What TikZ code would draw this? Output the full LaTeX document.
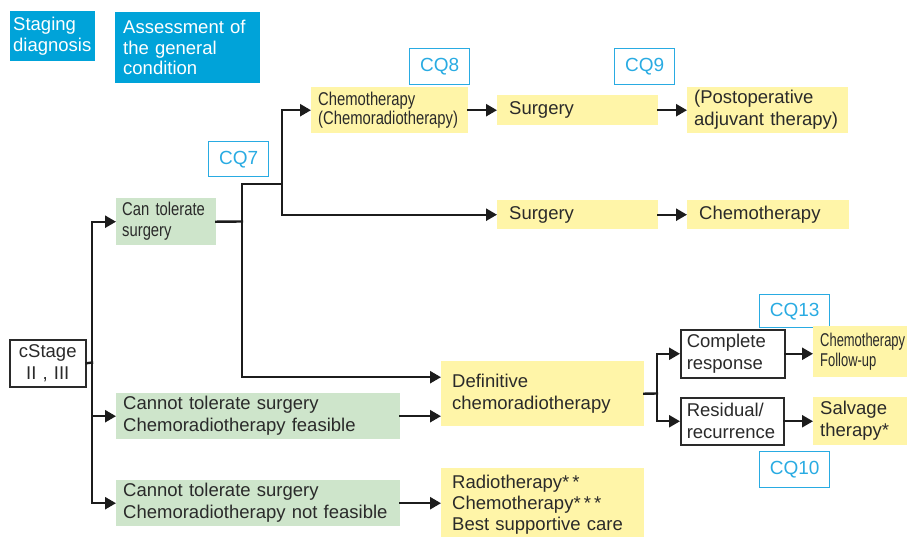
\documentclass[tikz,border=0pt]{standalone}
\usepackage{fontspec}
\setmainfont{Liberation Sans}
\newfontfamily\condA[FakeStretch=0.8]{Liberation Sans}
\newfontfamily\condB[FakeStretch=0.7]{Liberation Sans}
\usetikzlibrary{arrows.meta}
\definecolor{hcyan}{HTML}{00A3D9}
\definecolor{cqc}{HTML}{29ABE2}
\definecolor{yel}{HTML}{FFF5A8}
\definecolor{grn}{HTML}{CEE5CB}
\definecolor{txt}{HTML}{2A2A2A}
\definecolor{lnc}{HTML}{1C1C1C}
\begin{document}
\begin{tikzpicture}[x=1pt,y=-1pt,
  base/.style={anchor=north west, inner ysep=0pt, align=left, text=txt,
    font=\fontsize{18.5}{22}\selectfont},
  yb/.style={base, fill=yel},
  gb/.style={base, fill=grn},
  wb/.style={base, draw=txt, line width=1.5pt, fill=white},
  hb/.style={base, fill=hcyan, text=white, font=\fontsize{18.5}{20.5}\selectfont},
  cq/.style={anchor=north west, inner sep=0pt, draw=cqc, line width=1.4pt, text=cqc,
    font=\fontsize{19}{22}\selectfont, align=center},
  ln/.style={draw=lnc, line width=2.4pt, line cap=rect, line join=miter},
  arr/.style={ln, -{Triangle[length=11pt,width=12pt]}}
]
\useasboundingbox (0,0) rectangle (907,536);
\clip (0,0) rectangle (907,536);

% header boxes
\node[hb, minimum width=85pt, minimum height=50pt, inner xsep=3pt, text width=79pt] (stag) at (10,11) {Staging\\diagnosis};
\node[hb, minimum width=145pt, minimum height=71pt, inner xsep=8pt, text width=129pt] (assess) at (115,12) {Assessment of\\the general\\condition};

% CQ labels
\node[cq, minimum width=60pt, minimum height=36pt] (cq8) at (409,48) {CQ8};
\node[cq, minimum width=60pt, minimum height=36pt] (cq9) at (614,48) {CQ9};
\node[cq, minimum width=60pt, minimum height=35pt] (cq7) at (208,141) {CQ7};
\node[cq, minimum width=70pt, minimum height=33pt] (cq13) at (759,294) {CQ13};
\node[cq, minimum width=70pt, minimum height=36pt] (cq10) at (759,451) {CQ10};

% treatment boxes
\node[yb, minimum width=157pt, minimum height=46pt, inner xsep=7pt, text width=143pt,
  font=\condA\fontsize{18.5}{18.5}\selectfont] (chemo1) at (311,87) {Chemotherapy\\(Chemoradiotherapy)};
\node[yb, minimum width=161pt, minimum height=30pt, inner xsep=12pt, text width=137pt] (surg1) at (497,95) {Surgery};
\node[yb, minimum width=161pt, minimum height=46pt, inner xsep=7pt, text width=147pt] (post) at (687,87) {(Postoperative\\adjuvant therapy)};
\node[yb, minimum width=161pt, minimum height=29pt, inner xsep=12pt, text width=137pt] (surg2) at (497,200) {Surgery};
\node[yb, minimum width=162pt, minimum height=29pt, inner xsep=12pt, text width=138pt] (chemo2) at (687,200) {Chemotherapy};

% condition boxes
\node[gb, minimum width=100pt, minimum height=47pt, inner xsep=6pt, text width=88pt,
  font=\condA\fontsize{18.5}{21}\selectfont] (can) at (116,198) {Can tolerate\\surgery};
\node[wb, minimum width=76pt, minimum height=47pt, inner xsep=3pt, text width=70pt, align=center] (cst) at (9,339) {cStage\\II , III};
\node[gb, minimum width=284pt, minimum height=46pt, inner xsep=7pt, text width=270pt] (cannot1) at (116,393) {Cannot tolerate surgery\\Chemoradiotherapy feasible};
\node[gb, minimum width=284pt, minimum height=46pt, inner xsep=7pt, text width=270pt] (cannot2) at (116,480) {Cannot tolerate surgery\\Chemoradiotherapy not feasible};

\node[yb, minimum width=203pt, minimum height=65pt, inner xsep=11pt, text width=181pt] (defin) at (441,361) {Definitive\\chemoradiotherapy};
\node[yb, minimum width=203pt, minimum height=74pt, inner xsep=11pt, text width=181pt,
  font=\fontsize{18.5}{21}\selectfont] (radio) at (441,468) {Radiotherapy{*}\,{*}\\Chemotherapy{*}\,{*}\,{*}\\Best supportive care};

\node[wb, minimum width=104pt, minimum height=48pt, inner xsep=6pt, text width=92pt] (compl) at (680,329) {Complete\\response};
\node[wb, minimum width=103pt, minimum height=47pt, inner xsep=6pt, text width=91pt] (resid) at (680,397) {Residual/\\recurrence};
\node[yb, minimum width=96pt, minimum height=51pt, inner xsep=7pt, text width=82pt,
  font=\condB\fontsize{18.5}{20}\selectfont] (chfu) at (813,326) {Chemotherapy\\Follow-up};
\node[yb, minimum width=96pt, minimum height=48pt, inner xsep=7pt, text width=82pt] (salv) at (813,397) {Salvage\\therapy*};

% junction coordinates
\coordinate (t) at (92,362.5);
\coordinate (j1) at (242,221.5);
\coordinate (j2) at (282,184);
\coordinate (j3) at (657,393.5);

% connectors
\draw[ln] (cst.east) -- (t);
\draw[arr] (t) |- (can.west);
\draw[arr] (t) |- (cannot1.west);
\draw[arr] (t) |- (cannot2.west);

\draw[ln] (can.east) -- (j1);
\draw[ln] (j1) |- (j2);
\draw[arr] (j2) |- (chemo1.west);
\draw[arr] (j2) |- (surg2.west);
\draw[arr] (j1) |- ([yshift=16.5pt]defin.west);

\draw[arr] (chemo1.east) -- (surg1.west);
\draw[arr] (surg1.east) -- (post.west);
\draw[arr] (surg2.east) -- (chemo2.west);

\draw[arr] (cannot1.east) -- (cannot1.east -| defin.west);
\draw[arr] (cannot2.east) -- (cannot2.east -| radio.west);

\draw[ln] (defin.east) -- (j3);
\draw[arr] (j3) |- (compl.west);
\draw[arr] (j3) |- (resid.west);
\draw[arr] (compl.east) -- (compl.east -| chfu.west);
\draw[arr] (resid.east) -- (resid.east -| salv.west);
\end{tikzpicture}
\end{document}
